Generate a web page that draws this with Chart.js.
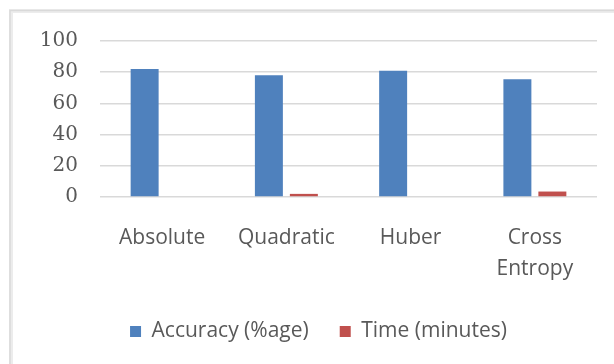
<!DOCTYPE html>
<html>
<head>
<meta charset="utf-8">
<style>
  html, body { margin: 0; padding: 0; background: #ffffff; }
  #wrap { position: relative; width: 614px; height: 364px; }
</style>
<script src="https://cdn.jsdelivr.net/npm/chart.js@4/dist/chart.umd.min.js"></script>
</head>
<body>
<div id="wrap"><canvas id="chart" width="614" height="364"></canvas></div>
<script>
// Loss functions compared
const categories = ['Absolute', 'Quadratic', 'Huber', ['Cross', 'Entropy']];
// Accuracy in percent per loss function
const accuracy = [82, 78, 81, 75.5];
// Training time in minutes per loss function
const timeMinutes = [0, 2, 0, 3.5];
// Y axis ticks
const yTicks = [0, 20, 40, 60, 80, 100];

const BLUE = '#4f81bd';
const RED = '#c0504d';
const TEXT = '#595959';

// Light frame around the chart (left and top edges)
const framePlugin = {
  id: 'frame',
  beforeDraw(chart) {
    const ctx = chart.ctx;
    ctx.save();
    ctx.fillStyle = '#ffffff';
    ctx.fillRect(0, 0, chart.width, chart.height);
    ctx.strokeStyle = '#ececec';
    ctx.lineWidth = 4;
    ctx.beginPath();
    ctx.moveTo(11, chart.height);
    ctx.lineTo(11, 11);
    ctx.lineTo(chart.width, 11);
    ctx.stroke();
    ctx.strokeStyle = '#d9d9d9';
    ctx.lineWidth = 1.5;
    ctx.beginPath();
    ctx.moveTo(10, chart.height);
    ctx.lineTo(10, 10.5);
    ctx.lineTo(chart.width, 10.5);
    ctx.stroke();
    ctx.restore();
  }
};

new Chart(document.getElementById('chart'), {
  type: 'bar',
  data: {
    labels: categories,
    datasets: [
      {
        label: 'Accuracy (%age)',
        data: accuracy,
        backgroundColor: BLUE,
        borderWidth: 0,
        barPercentage: 0.8,
        categoryPercentage: 0.563
      },
      {
        label: 'Time (minutes)',
        data: timeMinutes,
        backgroundColor: RED,
        borderWidth: 0,
        barPercentage: 0.8,
        categoryPercentage: 0.563
      }
    ]
  },
  options: {
    responsive: false,
    animation: false,
    devicePixelRatio: 1,
    layout: { padding: { top: 41, right: 17, bottom: 12, left: 40 } },
    plugins: {
      legend: {
        position: 'bottom',
        maxHeight: 75,
        labels: {
          boxWidth: 11,
          boxHeight: 11,
          padding: 31,
          color: TEXT,
          font: { family: 'Open Sans', size: 21 }
        }
      },
      tooltip: { enabled: false }
    },
    scales: {
      x: {
        grid: { display: false, drawTicks: false },
        border: { display: false },
        ticks: {
          color: TEXT,
          padding: 25,
          maxRotation: 0,
          autoSkip: false,
          font: { family: 'Open Sans', size: 21, lineHeight: 1.48 }
        },
        afterFit(scale) { scale.height = 93; }
      },
      y: {
        min: 0,
        max: 100,
        afterBuildTicks(scale) { scale.ticks = yTicks.map(v => ({ value: v })); },
        grid: { color: '#d9d9d9', lineWidth: 1.5, drawTicks: false },
        border: { display: false },
        ticks: {
          color: TEXT,
          padding: 22,
          font: { family: 'DejaVu Serif', size: 20 }
        },
        afterFit(scale) { scale.width = 60; }
      }
    }
  },
  plugins: [framePlugin]
});
</script>
</body>
</html>
